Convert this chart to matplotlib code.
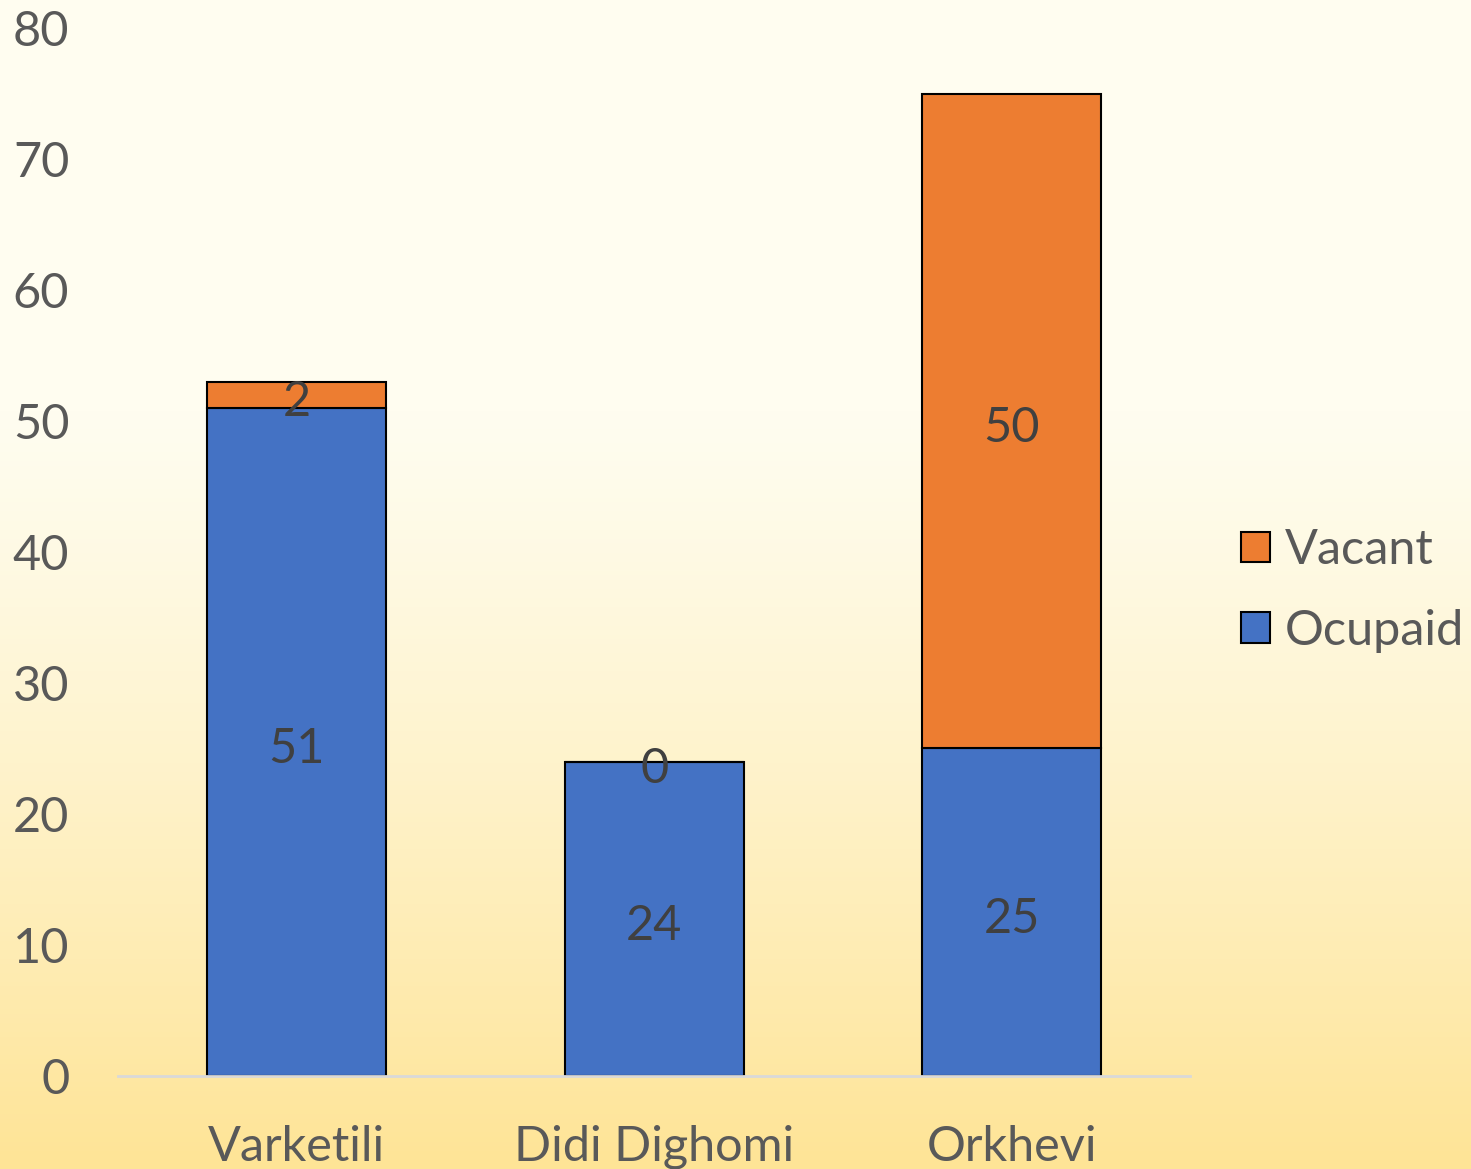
import numpy as np
from matplotlib import pyplot as plt

categories = ["Varketili", "Didi Dighomi", "Orkhevi"]
ocupaid = [51, 24, 25]
vacant = [2, 0, 50]
y_ticks = [0, 10, 20, 30, 40, 50, 60, 70, 80]

plt.rcParams['font.family'] = ['Lato', 'DejaVu Sans']

fig = plt.figure(figsize=(14.71, 11.69), dpi=100)

# background gradient (light cream at top, yellow at bottom)
bg = fig.add_axes([0, 0, 1, 1], zorder=-10)
top = np.array([255, 253, 240]) / 255
bottom = np.array([254, 228, 150]) / 255
t = np.linspace(0, 1, 256)
t = np.clip((t - 0.35) / 0.65, 0, 1) ** 1.2
grad = (top[None, :] * (1 - t[:, None]) + bottom[None, :] * t[:, None])[:, None, :]
bg.imshow(grad, aspect='auto', extent=[0, 1, 0, 1], origin='upper')
bg.axis('off')

ax = fig.add_axes([0.0802, 0.0796, 0.729, 0.8964])
ax.patch.set_alpha(0)

x = np.arange(len(categories))
b1 = ax.bar(x, ocupaid, width=0.5, color='#4472C4', edgecolor='black', linewidth=1.5, label='Ocupaid')
b2 = ax.bar(x, vacant, width=0.5, bottom=ocupaid, color='#ED7D31', edgecolor='black', linewidth=1.5, label='Vacant')

# data labels, nudged down a little like the original
for bars in (b1, b2):
    labels = ax.bar_label(bars, label_type='center', fontsize=35, color='#404040')
    for lab in labels:
        lab.set_y(lab.get_position()[1] - 5)

ax.set_xlim(-0.5, 2.5)
ax.set_ylim(0, 80)
ax.set_yticks(y_ticks)
ax.set_xticks(x)
ax.set_xticklabels(categories)
ax.tick_params(axis='y', length=0, pad=35, labelsize=35, labelcolor='#595959')
ax.tick_params(axis='x', length=0, pad=35, labelsize=35, labelcolor='#595959')
for s in ['top', 'right', 'left']:
    ax.spines[s].set_visible(False)
ax.spines['bottom'].set_color('#D9D9D9')
ax.spines['bottom'].set_linewidth(2)

handles = [b2, b1]
leg = fig.legend(handles, ['Vacant', 'Ocupaid'], loc='center left', bbox_to_anchor=(0.8435, 0.495),
                 frameon=False, fontsize=35, handlelength=0.6, handleheight=0.6,
                 handletextpad=0.3, labelspacing=0.75, borderpad=0, borderaxespad=0)
for txt in leg.get_texts():
    txt.set_color('#595959')

plt.savefig('out.png', dpi=100)
